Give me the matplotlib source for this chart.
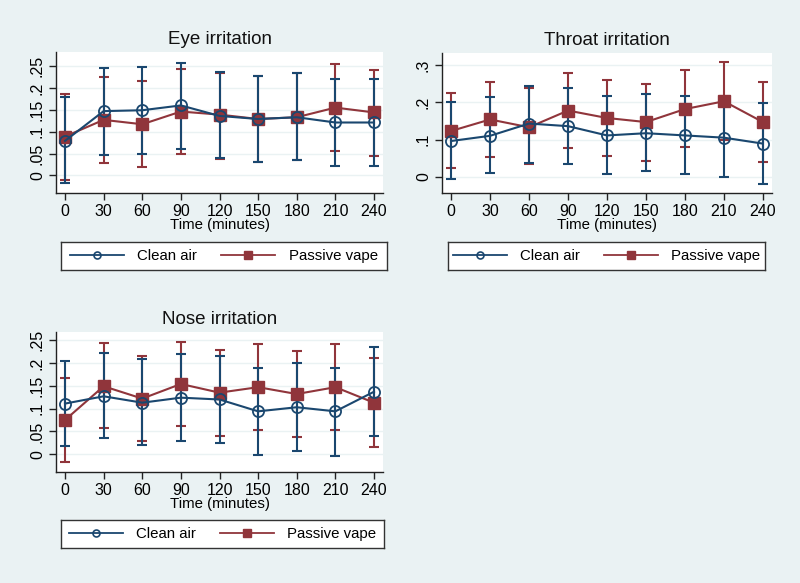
import matplotlib
matplotlib.use("Agg")
import matplotlib.pyplot as plt
from matplotlib.lines import Line2D
import numpy as np

plt.rcParams['font.family'] = ['Liberation Sans', 'DejaVu Sans']

times = [0, 30, 60, 90, 120, 150, 180, 210, 240]

# Eye irritation
eye_clean = [0.079, 0.147, 0.149, 0.160, 0.136, 0.129, 0.133, 0.121, 0.121]
eye_clean_lo = [-0.018, 0.047, 0.050, 0.060, 0.040, 0.030, 0.036, 0.022, 0.021]
eye_clean_hi = [0.179, 0.245, 0.248, 0.258, 0.236, 0.227, 0.234, 0.221, 0.220]
eye_vape = [0.089, 0.127, 0.117, 0.146, 0.139, 0.129, 0.133, 0.155, 0.144]
eye_vape_lo = [-0.010, 0.028, 0.019, 0.048, 0.038, 0.030, 0.036, 0.057, 0.044]
eye_vape_hi = [0.187, 0.225, 0.215, 0.244, 0.235, 0.227, 0.234, 0.255, 0.242]

# Throat irritation
thr_clean = [0.096, 0.110, 0.143, 0.136, 0.111, 0.117, 0.111, 0.105, 0.089]
thr_clean_lo = [-0.005, 0.009, 0.038, 0.033, 0.008, 0.014, 0.006, -0.001, -0.019]
thr_clean_hi = [0.200, 0.214, 0.245, 0.239, 0.216, 0.222, 0.217, 0.211, 0.198]
thr_vape = [0.123, 0.154, 0.133, 0.178, 0.158, 0.147, 0.182, 0.203, 0.147]
thr_vape_lo = [0.022, 0.053, 0.035, 0.076, 0.055, 0.043, 0.079, 0.098, 0.039]
thr_vape_hi = [0.225, 0.256, 0.238, 0.279, 0.260, 0.250, 0.286, 0.309, 0.255]

# Nose irritation
nose_clean = [0.111, 0.127, 0.113, 0.124, 0.120, 0.094, 0.103, 0.094, 0.137]
nose_clean_lo = [0.018, 0.035, 0.021, 0.030, 0.025, -0.001, 0.008, -0.003, 0.039]
nose_clean_hi = [0.205, 0.221, 0.209, 0.219, 0.215, 0.189, 0.200, 0.190, 0.235]
nose_vape = [0.075, 0.149, 0.122, 0.154, 0.135, 0.147, 0.132, 0.147, 0.113]
nose_vape_lo = [-0.018, 0.057, 0.029, 0.061, 0.041, 0.053, 0.038, 0.053, 0.016]
nose_vape_hi = [0.168, 0.243, 0.215, 0.247, 0.228, 0.242, 0.227, 0.242, 0.211]

eye_yticks = [0, 0.05, 0.1, 0.15, 0.2, 0.25]
eye_ylabels = ['0', '.05', '.1', '.15', '.2', '.25']
thr_yticks = [0, 0.1, 0.2, 0.3]
thr_ylabels = ['0', '.1', '.2', '.3']

NAVY = '#1a476f'
MAROON = '#90353b'
BG = '#eaf2f3'
W, H = 800, 583

fig = plt.figure(figsize=(W / 100, H / 100), dpi=100)
fig.patch.set_facecolor(BG)


def px_axes(left, top, right, bottom):
    return fig.add_axes([left / W, 1 - bottom / H, (right - left) / W, (bottom - top) / H])


def panel(ax, title, clean, clo, chi, vape, vlo, vhi, yticks, ylabels, ylim):
    ax.set_facecolor('white')
    for t in yticks:
        ax.axhline(t, color=BG, lw=1.0, zorder=0)
    c = np.array(clean); v = np.array(vape)
    ax.errorbar(times, v, yerr=[v - np.array(vlo), np.array(vhi) - v], fmt='none',
                ecolor=MAROON, elinewidth=1.5, capsize=3.8, capthick=1.5, zorder=2)
    ax.errorbar(times, c, yerr=[c - np.array(clo), np.array(chi) - c], fmt='none',
                ecolor=NAVY, elinewidth=1.5, capsize=3.8, capthick=1.5, zorder=2)
    ax.plot(times, v, color=MAROON, lw=1.5, marker='s', ms=8, mfc=MAROON, mec=MAROON, zorder=3)
    ax.plot(times, c, color=NAVY, lw=1.5, marker='o', ms=8, mfc='none', mec=NAVY, mew=1.3, zorder=4)
    ax.set_xlim(-7, 247)
    ax.set_ylim(*ylim)
    ax.set_xticks(times)
    ax.set_xticklabels([str(t) for t in times], fontsize=11.5)
    ax.set_yticks(yticks)
    ax.set_yticklabels(ylabels, fontsize=11.5, rotation=90, va='center')
    ax.tick_params(axis='both', direction='out', length=5, width=1, color='#222222', pad=3)
    ax.spines['top'].set_visible(False)
    ax.spines['right'].set_visible(False)
    for s in ('left', 'bottom'):
        ax.spines[s].set_color('#222222')
        ax.spines[s].set_linewidth(1)
    ax.set_xlabel('Time (minutes)', fontsize=10.8, labelpad=-1)
    ax.set_title(title, fontsize=13.5, pad=6, color='#111111')


def legend_box(left, top, right, bottom):
    lax = px_axes(left, top, right, bottom)
    lax.set_facecolor('white')
    lax.set_xticks([]); lax.set_yticks([])
    for s in lax.spines.values():
        s.set_color('#333333'); s.set_linewidth(1)
    h1 = Line2D([], [], color=NAVY, lw=1.3, marker='o', ms=5, mfc='none', mec=NAVY, mew=1.2)
    h2 = Line2D([], [], color=MAROON, lw=1.3, marker='s', ms=6, mfc=MAROON, mec=MAROON)
    lax.legend([h1, h2], ['Clean air', 'Passive vape'], loc='center', ncol=2, frameon=False,
               fontsize=10.8, handlelength=3.6, columnspacing=1.6, handletextpad=0.9,
               borderaxespad=0)


ax1 = px_axes(56, 52, 383, 193)
panel(ax1, 'Eye irritation', eye_clean, eye_clean_lo, eye_clean_hi, eye_vape, eye_vape_lo,
      eye_vape_hi, eye_yticks, eye_ylabels, (-0.040, 0.282))
ax2 = px_axes(442, 53, 772, 193)
panel(ax2, 'Throat irritation', thr_clean, thr_clean_lo, thr_clean_hi, thr_vape, thr_vape_lo,
      thr_vape_hi, thr_yticks, thr_ylabels, (-0.044, 0.333))
ax3 = px_axes(56, 332, 383, 472)
panel(ax3, 'Nose irritation', nose_clean, nose_clean_lo, nose_clean_hi, nose_vape, nose_vape_lo,
      nose_vape_hi, eye_yticks, eye_ylabels, (-0.039, 0.268))

legend_box(61, 242, 387, 270)
legend_box(448, 242, 765, 270)
legend_box(61, 520, 384, 548)

fig.savefig('out.png', dpi=100, facecolor=BG)
